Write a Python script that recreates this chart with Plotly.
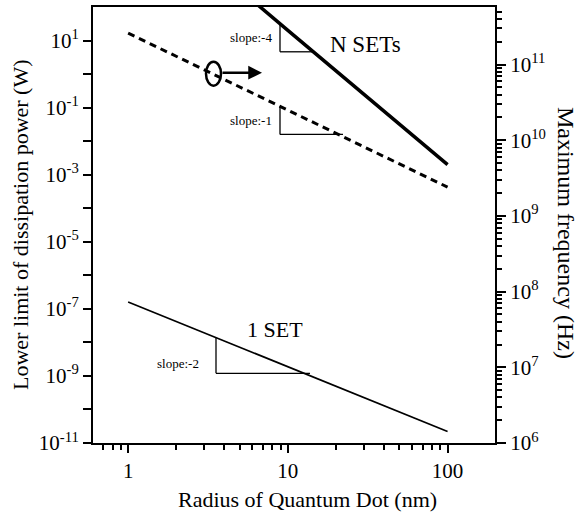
import math
import plotly.graph_objects as go

# ---------------- data ----------------
radius_one_set = [1, 10, 100]                 # nm
power_one_set = [1.6e-7, 1.9e-9, 2.2e-11]     # W  (1 SET, thin solid)

radius_n_sets = [5, 10, 100]                  # nm
power_n_sets = [330, 20, 2.0e-3]              # W  (N SETs, thick solid)

radius_freq = [1, 10, 100]                    # nm
max_frequency = [2.6e11, 2.5e10, 2.4e9]       # Hz (dashed, right axis)

x_tick_vals = [1, 10, 100]
x_tick_text = ["1", "10", "100"]
x_minor_vals = [0.7, 0.8, 0.9] + [m for m in range(2, 10)] + [m * 10 for m in range(2, 10)] + [200]

y_exponents = list(range(-11, 2))
y2_exponents = list(range(6, 12))

# ---------------- geometry helpers (pixel -> paper) ----------------
W, H = 580, 521
L, R, T, B = 93, 85, 5, 78
PW, PH = W - L - R, H - T - B


def px(x):
    return (x - L) / PW


def py(y):
    return (H - B - y) / PH


FONT = "Liberation Serif"

fig = go.Figure()

fig.add_trace(go.Scatter(x=radius_n_sets, y=power_n_sets, mode="lines",
                         line=dict(color="black", width=3.5), showlegend=False))
fig.add_trace(go.Scatter(x=radius_one_set, y=power_one_set, mode="lines",
                         line=dict(color="black", width=1.7), showlegend=False))
fig.add_trace(go.Scatter(x=radius_freq, y=max_frequency, mode="lines", yaxis="y2",
                         line=dict(color="black", width=3, dash="7px,5px"), showlegend=False))

fig.update_layout(
    width=W, height=H,
    margin=dict(l=L, r=R, t=T, b=B),
    paper_bgcolor="white", plot_bgcolor="white",
    font=dict(family=FONT, color="black", size=21),
    xaxis=dict(type="log", range=[-0.22, 2.297], showgrid=False, zeroline=False,
               showline=True, linecolor="black", linewidth=2, mirror=True,
               tickmode="array", tickvals=x_tick_vals, ticktext=x_tick_text,
               ticks="outside", ticklen=8, tickwidth=2, tickcolor="black",
               tickfont=dict(size=21, family=FONT),
               minor=dict(tickmode="array", tickvals=x_minor_vals, ticks="outside",
                          ticklen=5, tickwidth=2, tickcolor="black", showgrid=False)),
    yaxis=dict(type="log", range=[-11, 2], showgrid=False, zeroline=False,
               showline=True, linecolor="black", linewidth=2,
               tickmode="array", tickvals=[10.0 ** k for k in y_exponents],
               ticktext=["10<sup>%d</sup>" % k if k % 2 else "" for k in y_exponents],
               ticks="outside", ticklen=8, tickwidth=2, tickcolor="black",
               tickfont=dict(size=21, family=FONT)),
    yaxis2=dict(type="log", range=[6, 11.76], overlaying="y", side="right",
                showgrid=False, zeroline=False,
                showline=True, linecolor="black", linewidth=2,
                tickmode="array", tickvals=[10.0 ** k for k in y2_exponents],
                ticktext=["10<sup>%d</sup>" % k for k in y2_exponents],
                ticks="outside", ticklen=9, tickwidth=2, tickcolor="black",
                tickfont=dict(size=21, family=FONT),
                minor=dict(tickmode="array",
                           tickvals=[m * 10.0 ** k for k in range(6, 12) for m in range(2, 10)
                                     if math.log10(m) + k <= 11.76],
                           ticks="outside", ticklen=5, tickwidth=1.5, tickcolor="black",
                           showgrid=False)),
)

# ---------------- slope triangles ----------------
tri_lines = [
    (280, 23, 280, 50), (280, 50, 312, 50),      # slope -4
    (280, 105, 280, 133), (280, 133, 343, 133),  # slope -1
    (216, 337, 216, 373), (216, 373, 310, 373),  # slope -2
]
for x0, y0, x1, y1 in tri_lines:
    fig.add_shape(type="line", xref="paper", yref="paper",
                  x0=px(x0), y0=py(y0), x1=px(x1), y1=py(y1),
                  line=dict(color="black", width=1.3))

# ellipse marker on the dashed line
fig.add_shape(type="circle", xref="paper", yref="paper",
              x0=px(206), x1=px(221), y0=py(84), y1=py(60),
              line=dict(color="black", width=2.5))

# arrow to the right axis
fig.add_annotation(xref="paper", yref="paper", x=px(262), y=py(71), text="",
                   showarrow=True, ax=-41, ay=0, arrowhead=2, arrowsize=1.1,
                   arrowwidth=2.5, arrowcolor="black")

texts = [
    ("slope:-4", 251, 36, 13),
    ("slope:-1", 251, 119, 13),
    ("slope:-2", 178, 363, 13),
    ("N SETs", 365, 43, 23),
    ("1 SET", 275, 329, 22),
]
for t, x, y, s in texts:
    fig.add_annotation(xref="paper", yref="paper", x=px(x), y=py(y), text=t,
                       showarrow=False, xanchor="center", yanchor="middle",
                       font=dict(size=s, family=FONT, color="black"))

# axis titles
fig.add_annotation(xref="paper", yref="paper", x=px(307), y=py(500),
                   text="Radius of Quantum Dot (nm)", showarrow=False,
                   xanchor="center", yanchor="middle", font=dict(size=22, family=FONT))
fig.add_annotation(xref="paper", yref="paper", x=px(20), y=py(224),
                   text="Lower limit of dissipation power (W)", showarrow=False,
                   textangle=-90, xanchor="center", yanchor="middle",
                   font=dict(size=22, family=FONT))
fig.add_annotation(xref="paper", yref="paper", x=px(566), y=py(232),
                   text="Maximum frequency (Hz)", showarrow=False,
                   textangle=90, xanchor="center", yanchor="middle",
                   font=dict(size=24, family=FONT))

fig.write_html("out.html", config={"displayModeBar": False},
               post_script="document.body.style.margin='0px';document.body.style.padding='0px';")
